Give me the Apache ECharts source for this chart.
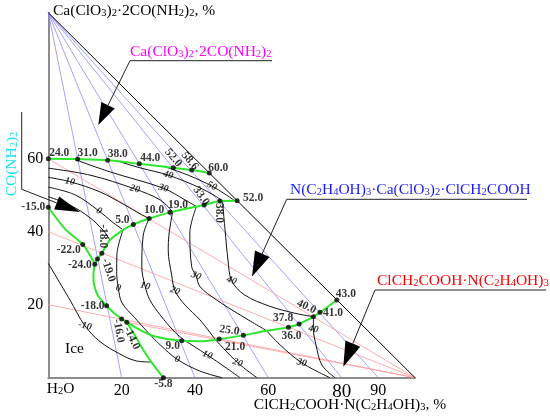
<!DOCTYPE html>
<html>
<head>
<meta charset="utf-8">
<script src="https://cdn.jsdelivr.net/npm/echarts@6/dist/echarts.min.js"></script>
<style>
  html, body { margin: 0; padding: 0; background: #fff; }
  #chart { width: 550px; height: 416px; }
</style>
</head>
<body>
<div id="chart"></div>
<script>
const SERIF = '"Liberation Serif", "Times New Roman", serif';

// axis tick labels
const xTicks = [20, 40, 60, 80, 90];
const yTicks = [20, 40, 60];

// tie lines: blue from the Ca(ClO3)2·2CO(NH2)2 vertex to the x axis,
// red from these points to the ClCH2COOH·N(C2H4OH)3 vertex
const blueEnds = [20, 40, 60, 80, 90];
const redStarts = [[0, 60], [0, 40], [0, 20], [21.4, 15.2]];

// crystallization curves: [x %, y %, temperature label]
const curveTop = [
    [0, 60.0, '24.0'], [8.0, 59.9, '31.0'], [16.2, 59.6, '38.0'], [24.8, 58.6, '44.0'],
    [34.1, 57.5, '52.0'], [39.1, 56.9, '58.6'], [43.9, 56.1, '60.0']
];
const curveArc = [
    [51.5, 48.5, '52.0'], [46.8, 48.4, '38.0'], [42.5, 47.3, '33.0'], [33.2, 45.3, '19.0'],
    [27.5, 43.6, '10.0'], [23.2, 42.0, '5.0'], [20.4, 40.5, null], [16.8, 37.7, null],
    [14.6, 34.1, '-18.0'], [13.4, 32.5, '-19.0'], [12.7, 31.1, '-24.0'], [12.3, 28.1, null],
    [12.5, 25.4, null], [13.6, 22.4, null], [15.9, 19.7, '-18.0'], [17.9, 17.7, null],
    [20.0, 16.1, '-16.0'], [21.4, 15.2, '-14.0'], [25.0, 13.1, null], [29.1, 11.3, null],
    [36.4, 10.1, '9.0'], [41.4, 10.0, null], [46.6, 10.6, '21.0'], [53.2, 11.6, '25.0'],
    [59.1, 12.8, null], [65.5, 13.8, '36.0'], [68.4, 14.7, '37.8'], [72.3, 16.7, '40.0'],
    [74.1, 17.9, '41.0'], [78.7, 21.3, '43.0']
];
const curveLeft = [[0, 46.7, '-15.0'], [4.8, 40.5, null], [9.4, 36.5, '-22.0'], [12.7, 31.1, null]];
const curveIce = [[21.4, 15.2, null], [23.6, 11.6, null], [25.9, 7.6, null], [28.6, 3.6, null], [31.4, 0, '-5.8']];

// isotherms (°C) in the urea field
const isoUp50 = [[31.8, 57.8], [38.6, 55.3], [44.6, 52.5], [48.2, 50.3], [50.8, 48.5]];
const isoUp40 = [[19.1, 59.3], [25.0, 57.5], [32.7, 55.5], [41.4, 52.0], [45.5, 49.8], [47.5, 48.4]];
const isoUp30 = [[6.9, 59.9], [16.8, 56.4], [31.4, 51.9], [37.3, 48.7], [40.4, 46.9]];
const isoUp20 = [[0, 57.4], [11.4, 55.5], [23.6, 51.7], [30.5, 48.7], [33.9, 45.5]];
const isoUp10 = [[0, 54.9], [5.9, 53.7], [14.1, 50.9], [20.9, 47.3], [25.0, 44.9], [27.5, 43.6]];
const isoUp0 = [[0, 52.2], [7.3, 50.1], [13.8, 45.7], [17.4, 42.7], [20.4, 40.5]];
const isoUpM10 = [[0, 49.6], [5.9, 47.3], [11.4, 43.8], [15.1, 40.2], [16.8, 37.7]];
// isotherms in the compound field
const isoMid0 = [[20.4, 40.5], [18.7, 33.6], [18.65, 29.0], [19.1, 24.5], [20.1, 20.5], [23.6, 16.4], [27.5, 12.0]];
const isoMid10 = [[27.5, 43.6], [25.9, 39.1], [25.5, 30.3], [26.4, 25.1], [27.7, 21.3], [30.5, 17.2], [34.5, 12.5], [37.2, 10.2]];
const isoMid20 = [[33.9, 45.5], [32.9, 39.1], [32.7, 35.0], [33.65, 28.1], [34.55, 23.8], [37.3, 19.9], [41.4, 15.8], [45.5, 10.5]];
const isoMid30 = [[40.4, 46.9], [38.6, 39.6], [39.1, 30.4], [40.3, 27.9], [41.4, 24.9], [45.9, 21.3], [52.3, 17.2], [59.5, 12.9]];
const isoMid40 = [[47.5, 48.4], [48.2, 40.5], [49.0, 32.25], [50.0, 26.6], [53.5, 22.7], [60.3, 19.6], [67.1, 17.7], [72.3, 16.7]];
// isotherms in the ClCH2COOH·N(C2H4OH)3 field and in the ice field
const isoLow0 = [[27.5, 12.0], [30.5, 9.0], [35.2, 5.0], [41.4, 1.8], [47.4, 0]];
const isoLow10 = [[37.2, 10.2], [43.4, 6.2], [48.2, 2.9], [52.3, 0]];
const isoLow20 = [[45.5, 10.5], [51.65, 4.1], [56.9, 0]];
const isoLow30 = [[59.5, 12.9], [63.2, 9.0], [69.1, 4.1], [76.8, 0]];
const isoLow40 = [[72.3, 16.7], [72.3, 13.3], [73.0, 9.0], [74.6, 3.5], [78.2, 0]];
const isoIceM10 = [[0, 31.3], [5.9, 21.3], [10.0, 14.2], [14.1, 9.9], [19.5, 6.5], [24.0, 4.6], [28.0, 4.3]];

// isotherm labels: [x %, y %, text]
const isoLabels = [
    [5.9, 53.7, '10'], [23.6, 51.7, '20'], [31.4, 51.9, '30'], [32.7, 55.5, '40'], [44.6, 52.5, '50'], [13.8, 45.7, '0'],
    [19.1, 24.5, '0'], [26.4, 25.1, '10'], [34.55, 23.8, '20'], [40.3, 27.9, '30'], [50.0, 26.6, '40'],
    [10.0, 14.2, '-10'], [35.2, 5.0, '0'], [43.4, 6.2, '10'], [51.65, 4.1, '20'], [69.1, 4.1, '30'], [72.3, 13.3, '40']
];
const isoLabelRot = [-10, -15, -15, -15, -25, -30, -15, -15, -20, -20, -20, -15, -15, -20, -20, -15, -10];

// point label placement on screen: [dx px, dy px, rotate deg]
const pointLabelLayout = {
    top0: [11, -6, 0], top1: [10, -6, 0], top2: [10, -6, 0], top3: [11, -6, 0],
    top4: [0, -10, -50], top5: [-2, -9, -50], top6: [9, -5, 0],
    arc0: [16, -3, 0], arc1: [-1, 12, -90], arc2: [-3, -9, -55], arc3: [8, -7, 0],
    arc4: [5, -9, 0], arc5: [-11, -4, 0], arc8: [1, -17, -90], arc9: [11, 11, -72],
    arc10: [-15, 1, 0], arc14: [-14, 0, 0], arc16: [-3, 12, -80], arc17: [5, 16, -65],
    arc20: [-9, 5, 0], arc22: [16, 8, 0], arc23: [-14, -5, -8], arc25: [3, 9, 0],
    arc26: [-16, -6, 0], arc27: [-7, -10, -25], arc28: [13, 1, 0], arc29: [9, -6, 0],
    left0: [-15, 0, 0], left2: [-14, 6, 0], ice4: [0, 6, 0]
};

// the label offset is applied in the label's rotated frame, so turn it back
function labelOffset(sx, sy, deg) {
    const r = deg * Math.PI / 180;
    const c = Math.cos(r), s = Math.sin(r);
    return [sx * c - sy * s, sx * s + sy * c];
}

// chemical formula -> rich text with subscripts
function chem(str) {
    return str.split(/(_\d)/).filter(s => s).map(s =>
        s[0] === '_' ? '{s|' + s.slice(1) + '}' : '{n|' + s + '}').join('');
}
const richChem = {
    n: { fontSize: 15.5, lineHeight: 16, verticalAlign: 'top', fontFamily: SERIF },
    s: { fontSize: 10.5, lineHeight: 9, verticalAlign: 'bottom', fontFamily: SERIF }
};
function chemText(str, x, y, color, align, extra) {
    return Object.assign({
        type: 'text', x: x, y: y, z: 100, silent: true,
        style: { text: chem(str), fill: color, fontFamily: SERIF, fontSize: 15.5,
            align: align, verticalAlign: 'middle', rich: richChem }
    }, extra || {});
}
function leader(points) {
    return { type: 'polyline', z: 100, silent: true, shape: { points: points },
        style: { stroke: '#222', lineWidth: 1, fill: null } };
}
// filled arrowhead from the direction of `from` to `tip`
function arrowHead(from, tip, len, half) {
    const dx = tip[0] - from[0], dy = tip[1] - from[1];
    const d = Math.sqrt(dx * dx + dy * dy);
    const ux = dx / d, uy = dy / d;
    const bx = tip[0] - ux * len, by = tip[1] - uy * len;
    return { type: 'polygon', z: 100, silent: true,
        shape: { points: [tip, [bx - uy * half, by + ux * half], [bx + uy * half, by - ux * half]] },
        style: { fill: '#000' } };
}

const chart = echarts.init(document.getElementById('chart'));

const series = [];
function addLine(data, color, width, z, smooth) {
    series.push({ type: 'line', data: data, symbol: 'none', smooth: smooth, clip: false,
        silent: true, z: z, lineStyle: { color: color, width: width } });
}

addLine([[0, 100], [100, 0]], '#000', 1, 2, false);
blueEnds.forEach(e => addLine([[0, 100], [e, 0]], '#8a8aff', 0.8, 1, false));
redStarts.forEach(s => addLine([s, [100, 0]], '#ff9a9a', 0.8, 1, false));
[isoUp50, isoUp40, isoUp30, isoUp20, isoUp10, isoUp0, isoUpM10,
 isoMid0, isoMid10, isoMid20, isoMid30, isoMid40,
 isoLow0, isoLow10, isoLow20, isoLow30, isoLow40, isoIceM10
].forEach(c => addLine(c, '#111', 1, 2, 0.35));

const curves = { top: curveTop, arc: curveArc, left: curveLeft, ice: curveIce };
const pointData = [];
Object.keys(curves).forEach(k => {
    addLine(curves[k].map(p => [p[0], p[1]]), '#2ee82e', 2, 3, 0.3);
    curves[k].forEach((p, i) => {
        if (!p[2]) return;
        const lay = pointLabelLayout[k + i] || [10, -6, 0];
        pointData.push({ value: [p[0], p[1]],
            label: { formatter: p[2], offset: labelOffset(lay[0], lay[1], lay[2]), rotate: lay[2] } });
    });
});

series.push({
    type: 'scatter', symbolSize: 5, clip: false, z: 5, silent: true,
    itemStyle: { color: '#000' },
    label: { show: true, position: 'inside', fontFamily: SERIF, fontWeight: 'bold', fontSize: 11.5, color: '#000' },
    data: pointData
});
series.push({
    type: 'scatter', symbolSize: 1, clip: false, z: 5, silent: true,
    itemStyle: { color: 'rgba(0,0,0,0)' },
    label: { show: true, position: 'inside', fontFamily: SERIF, fontStyle: 'italic', fontWeight: 'bold', fontSize: 10, color: '#000' },
    data: isoLabels.map((p, i) => ({ value: [p[0], p[1]], label: { formatter: p[2], rotate: isoLabelRot[i] } }))
});

const option = {
    animation: false,
    backgroundColor: '#fff',
    grid: { left: 48.3, right: 135, top: 12.7, bottom: 38.3 },
    xAxis: {
        type: 'value', min: 0, max: 100, interval: 10,
        axisLine: { show: true, lineStyle: { color: '#8c8c8c', width: 2 } },
        axisTick: { show: false }, splitLine: { show: false },
        axisLabel: {
            margin: 5, fontFamily: SERIF, fontSize: 16, color: '#000',
            formatter: v => xTicks.indexOf(v) < 0 ? '' : (v === 80 ? '{b|80}' : String(v)),
            rich: { b: { fontSize: 19, fontFamily: SERIF, color: '#000' } }
        }
    },
    yAxis: {
        type: 'value', min: 0, max: 100, interval: 10,
        axisLine: { show: true, lineStyle: { color: '#8c8c8c', width: 2 } },
        axisTick: { show: false }, splitLine: { show: false },
        axisLabel: {
            margin: 5, fontFamily: SERIF, fontSize: 16, color: '#000',
            formatter: v => yTicks.indexOf(v) < 0 ? '' : String(v)
        }
    },
    series: series,
    graphic: [
        chemText('Ca(ClO_3)_2·2CO(NH_2)_2, %', 53, 11, '#000', 'left'),
        chemText('Ca(ClO_3)_2·2CO(NH_2)_2', 130, 52, '#ff00ff', 'left'),
        chemText('N(C_2H_4OH)_3·Ca(ClO_3)_2·ClCH_2COOH', 290, 190, '#1a1aff', 'left'),
        chemText('ClCH_2COOH·N(C_2H_4OH)_3', 377, 281, '#ff0000', 'left'),
        chemText('ClCH_2COOH·N(C_2H_4OH)_3, %', 350, 405, '#000', 'center'),
        chemText('H_2O', 46.7, 389, '#000', 'left'),
        chemText('CO(NH_2)_2', 11.5, 164, '#1ee0f0', 'center', { rotation: Math.PI / 2 }),
        { type: 'text', x: 74.5, y: 348.5, z: 100, silent: true,
          style: { text: 'Ice', fill: '#000', fontFamily: SERIF, fontSize: 15.5, align: 'center', verticalAlign: 'middle' } },
        leader([[272, 60.7], [130, 60.7], [108, 105.3]]),
        arrowHead([130, 60.7], [98.3, 125], 22, 7.5),
        leader([[527, 199.3], [286.7, 199.3], [262, 254]]),
        arrowHead([286.7, 199.3], [252, 276.5], 25, 8),
        leader([[546, 290], [375, 290], [352.8, 343.6]]),
        arrowHead([375, 290], [343.3, 366.7], 25, 8),
        leader([[21.7, 112], [21.7, 189.3], [56.7, 202.9]]),
        arrowHead([21.7, 189.3], [80, 212], 25, 7)
    ]
};

chart.setOption(option);
</script>
</body>
</html>
